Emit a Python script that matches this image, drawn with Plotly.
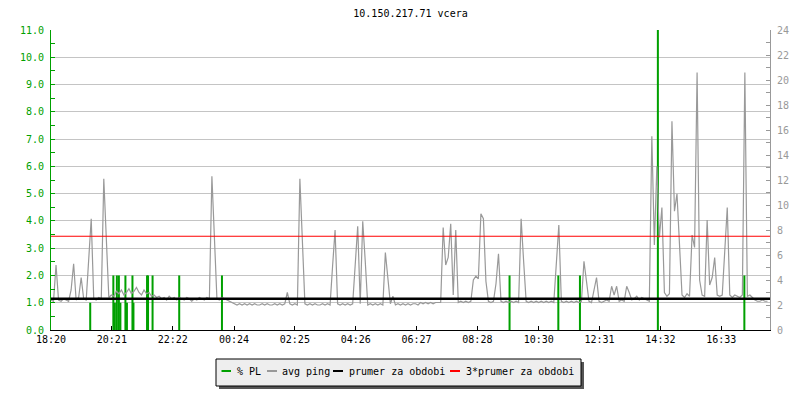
import plotly.graph_objects as go

# ---------------- data ----------------
title_text = "10.150.217.71 vcera"

tick_minutes = [0, 121, 242, 364, 485, 606, 727, 848, 970, 1091, 1212, 1333]
tick_labels = ["18:20", "20:21", "22:22", "00:24", "02:25", "04:26",
               "06:27", "08:28", "10:30", "12:31", "14:32", "16:33"]
period_minutes = 1430          # length of the shown period (minutes from 18:20)
sample_step_min = 5            # avg ping sampled every 5 minutes

# avg ping [ms] (right axis), one value every 5 minutes from 18:20
ping_ms = [
    2.4, 2.3, 5.2, 2.4, 2.3, 2.5, 2.4, 2.3, 3.2, 5.3,
    2.4, 2.6, 4.2, 2.5, 2.4, 5.5, 8.9, 2.5, 2.4, 2.6,
    2.5, 12.1, 7.2, 2.6, 2.8, 2.7, 3.1, 2.9, 3.2, 2.8,
    3.0, 3.3, 2.9, 3.1, 3.4, 3.0, 2.8, 3.2, 2.9, 3.0,
    2.7, 2.8, 2.6, 2.7, 2.5, 2.6, 2.4, 2.7, 2.5, 2.6,
    2.4, 2.6, 2.5, 2.4, 2.6, 2.5, 2.3, 2.5, 2.4, 2.6,
    2.5, 2.4, 2.6, 2.5, 12.3, 7.4, 2.5, 2.4, 2.6, 2.5,
    2.4, 2.3, 2.2, 2.1, 2.0, 2.1, 2.0, 2.1, 2.0, 2.1,
    2.0, 2.1, 2.0, 2.0, 2.1, 2.0, 2.1, 2.0, 2.0, 2.1,
    2.0, 2.1, 2.0, 2.1, 3.0, 2.1, 2.0, 2.1, 2.0, 12.1,
    7.2, 2.1, 2.0, 2.1, 2.0, 2.1, 2.0, 2.0, 2.1, 2.0,
    2.1, 2.0, 5.1, 8.0, 2.1, 2.0, 2.1, 2.0, 2.1, 2.0,
    2.1, 5.2, 8.3, 2.1, 8.7, 5.5, 2.0, 2.1, 2.0, 2.1,
    2.0, 2.1, 2.0, 6.2, 4.3, 2.1, 2.7, 2.0, 2.1, 2.0,
    2.1, 2.0, 2.1, 2.0, 2.1, 2.1, 2.0, 2.2, 2.1, 2.2,
    2.1, 2.2, 2.1, 2.2, 2.2, 2.2, 8.2, 5.2, 5.8, 8.5,
    2.8, 8.0, 2.2, 2.3, 2.2, 2.3, 2.2, 2.3, 4.0, 4.3,
    4.1, 9.3, 8.9, 3.9, 2.3, 2.2, 2.3, 3.7, 6.1, 2.3,
    2.2, 2.3, 2.2, 2.3, 2.2, 2.3, 2.2, 8.9, 5.5, 2.3,
    2.2, 2.3, 2.2, 2.3, 2.2, 2.3, 2.2, 2.3, 2.2, 2.3,
    2.2, 5.2, 8.4, 2.3, 2.2, 2.3, 2.2, 2.3, 2.2, 2.3,
    2.2, 2.3, 5.5, 3.9, 2.3, 2.2, 3.1, 4.2, 2.3, 2.2,
    2.3, 2.4, 2.3, 3.5, 2.8, 3.5, 2.3, 2.4, 2.3, 3.5,
    3.0, 2.4, 2.5, 2.7, 2.4, 2.6, 2.5, 2.4, 2.3, 15.5,
    6.8, 13.1, 7.4, 9.8, 3.0, 2.7, 2.9, 16.7, 9.5, 10.9,
    6.7, 2.8, 2.6, 2.9, 2.7, 7.6, 6.6, 20.6, 4.0, 2.8,
    2.7, 8.8, 3.6, 4.2, 5.8, 2.8, 2.7, 2.8, 6.3, 9.8,
    2.8, 2.6, 2.8, 2.7, 2.6, 2.8, 20.6, 2.7, 2.8, 2.6,
    2.4, 2.3, 2.3, 2.4, 2.3, 2.3,
]

# packet loss events [%] (left axis): minutes after 18:20 and value
pl_minutes = [78, 124, 127, 131, 135, 138, 148, 151, 162, 164,
              191, 193, 202, 255, 340, 912, 1009, 1052, 1207, 1379]
pl_percent = [1.0, 2.0, 1.0, 2.0, 2.0, 1.0, 2.0, 1.0, 2.0, 1.0,
              2.0, 2.0, 2.0, 2.0, 2.0, 2.0, 2.0, 2.0, 11.0, 2.0]

prumer = 2.5                   # average over the period [ms]
series_names = ["% PL", "avg ping", "prumer za obdobi", "3*prumer za obdobi"]

# ---------------- style ----------------
GREEN = "#00a000"
GRAY = "#999999"
GRID = "#c4c4c4"
FONT = "DejaVu Sans Mono"
colors = [GREEN, GRAY, "#000000", "#ff0000"]

ping_x = [i * sample_step_min for i in range(len(ping_ms))]

fig = go.Figure()
fig.add_trace(go.Bar(x=pl_minutes, y=pl_percent, width=4, name=series_names[0],
                     marker=dict(color=GREEN, line=dict(width=0)), yaxis="y"))
fig.add_trace(go.Scatter(x=ping_x, y=ping_ms, mode="lines", name=series_names[1],
                         line=dict(color=GRAY, width=1.2), yaxis="y2"))
fig.add_trace(go.Scatter(x=[0, period_minutes], y=[prumer, prumer], mode="lines",
                         name=series_names[2], line=dict(color="#000000", width=2.6),
                         yaxis="y2"))
fig.add_trace(go.Scatter(x=[0, period_minutes], y=[3 * prumer, 3 * prumer], mode="lines",
                         name=series_names[3], line=dict(color="#ff0000", width=1.2),
                         yaxis="y2"))

L, R, T, B = 51, 770, 30, 330


def px(x):
    return (x - L) / (R - L)


def py(y):
    return (B - y) / (B - T)


shapes = [
    dict(type="rect", xref="paper", yref="paper", x0=px(219), x1=px(584), y0=py(389), y1=py(362),
         fillcolor="#555555", line=dict(width=0)),
    dict(type="rect", xref="paper", yref="paper", x0=px(216), x1=px(581), y0=py(386), y1=py(359),
         fillcolor="#eeeeee", line=dict(color="#000000", width=1)),
]
annotations = []
legend_items = [(221.5, 231, 235), (267, 277, 280), (333, 343, 347), (450, 460, 464)]
for (x0, x1, tx), name, col in zip(legend_items, series_names, colors):
    shapes.append(dict(type="line", xref="paper", yref="paper", x0=px(x0), x1=px(x1),
                       y0=py(371), y1=py(371), line=dict(color=col, width=2)))
    annotations.append(dict(xref="paper", yref="paper", x=px(tx), y=py(371.5), xanchor="left",
                            yanchor="middle", text=name, showarrow=False,
                            font=dict(family=FONT, size=10, color="#000000")))

fig.update_layout(
    width=800, height=400,
    margin=dict(l=L, r=800 - R, t=T, b=400 - B, autoexpand=False),
    paper_bgcolor="white", plot_bgcolor="white",
    showlegend=False,
    font=dict(family=FONT, size=10, color="#000000"),
    title=dict(text=title_text, x=0.5, xref="paper", y=1 - 13 / 400, yanchor="middle",
               font=dict(family=FONT, size=10, color="#000000")),
    xaxis=dict(range=[0, period_minutes], tickmode="array", tickvals=tick_minutes,
               ticktext=tick_labels, ticks="inside", ticklen=4, tickcolor="#000000",
               showline=True, linecolor="#000000", linewidth=1, showgrid=False,
               zeroline=False, automargin=False,
               tickfont=dict(family=FONT, size=10, color="#000000")),
    yaxis=dict(range=[0, 11], dtick=1, tickformat=".1f", ticks="inside", ticklen=4,
               tickcolor=GREEN, showline=True, linecolor=GREEN, linewidth=1,
               showgrid=True, gridcolor=GRID, gridwidth=1, zeroline=False, automargin=False,
               tickfont=dict(family=FONT, size=10, color=GREEN), ticklabelstandoff=4,
               minor=dict(dtick=0.5, ticks="inside", ticklen=4, tickcolor=GREEN, showgrid=False)),
    yaxis2=dict(range=[0, 24], dtick=2, overlaying="y", side="right", ticks="inside",
                ticklen=4, tickcolor=GRAY, showline=True, linecolor=GRAY, linewidth=1,
                showgrid=False, zeroline=False, ticklabelstandoff=4, automargin=False,
                tickfont=dict(family=FONT, size=10, color=GRAY),
                minor=dict(dtick=1, ticks="inside", ticklen=4, tickcolor=GRAY, showgrid=False)),
    shapes=shapes,
    annotations=annotations,
)

fig.write_html("out.html", config={"displayModeBar": False},
               post_script="document.body.style.margin='0px';")
